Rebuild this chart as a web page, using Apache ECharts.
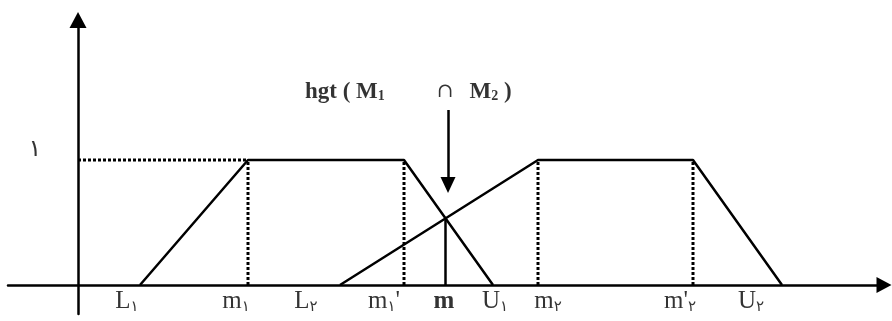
<!DOCTYPE html>
<html>
<head>
<meta charset="utf-8">
<script src="https://cdn.jsdelivr.net/npm/echarts/dist/echarts.min.js"></script>
<style>
  html, body { margin: 0; padding: 0; background: #fff; }
  #chart { width: 892px; height: 321px; }
</style>
</head>
<body>
<div id="chart"></div>
<script>
// Two trapezoidal fuzzy numbers M1 = (L1, m1, m1', U1) and M2 = (L2, m2, m2', U2)
const trapezoidM1 = [[62, 0], [170, 1], [326, 1], [415, 0]];
const trapezoidM2 = [[262, 0], [460, 1], [615, 1], [704, 0]];

// Core edges marked with dotted drops: m1, m1', m2, m2'
const coreEdges = [170, 326, 460, 615];

// Crossing point of the falling side of M1 and the rising side of M2
const crossX = 367.5;
const crossHeight = 0.533;

// Pointer from the hgt annotation down towards the crossing
const hgtArrow = [[370, 1.4], [370, 0.8]];
const hgtText = '{t|hgt ( M}{sub|1}{g1| }{cap|\u2229}{g2| }{t|M}{sub|2}{t| )}';
const hgtAnchor = [227, 1.544];

// Labels under the horizontal axis
const tickLabels = ['L۱', 'm۱', 'L۲', "m۱'", 'm', 'U۱', 'm۲', "m'۲", 'U۲'];
const tickLabelX = [49, 158, 228, 306, 366, 417, 470, 602, 673];
const tickLabelY = -0.135;

// Membership level label
const levelLabel = '۱';
const levelAnchor = [-43, 1.08];

const black = '#000';
const solid = { color: black, width: 2.5 };
const dotted = { color: black, width: 3, type: [3, 2] };

function lineSeries(data, style) {
  return {
    type: 'line', data: data, symbol: 'none', silent: true,
    lineStyle: style, z: 3
  };
}

function richLabel(text) {
  if (text === 'm') return '{b|m}';
  return text.replace(/([۰-۹])/g, '{s|$1}');
}

const series = [];
series.push(lineSeries(trapezoidM1, solid));
series.push(lineSeries(trapezoidM2, solid));
// dotted guide from the axis to the start of the core of M1
series.push(lineSeries([[0, 1], [coreEdges[0], 1]], dotted));
coreEdges.forEach(function (x) {
  series.push(lineSeries([[x, 0], [x, 1]], dotted));
});
// height of the intersection
series.push(lineSeries([[crossX, 0], [crossX, crossHeight]], solid));
// annotation arrow
series.push({
  type: 'line', data: [], silent: true,
  markLine: {
    silent: true, animation: false,
    symbol: ['none', 'triangle'], symbolSize: [15, 16],
    lineStyle: { color: black, width: 2.5, type: 'solid' },
    label: { show: false },
    data: [[{ coord: hgtArrow[0] }, { coord: hgtArrow[1] }]]
  }
});

const textFont = '"Liberation Serif", "DejaVu Serif", serif';

series.push({
  type: 'scatter', symbolSize: 0, silent: true,
  data: tickLabels.map(function (t, i) {
    return { name: t, value: [tickLabelX[i], tickLabelY] };
  }),
  label: {
    show: true, position: 'inside', color: black,
    fontFamily: textFont, fontSize: 25,
    formatter: function (p) { return richLabel(p.name); },
    rich: {
      s: { fontFamily: '"DejaVu Sans", sans-serif', fontSize: 15, color: black, padding: [10, 0, 0, 0] },
      b: { fontFamily: textFont, fontSize: 25, fontWeight: 'bold', color: black }
    }
  }
});

// hgt annotation, left-aligned at its anchor
series.push({
  type: 'scatter', symbolSize: 0, silent: true,
  data: [{ name: hgtText, value: hgtAnchor }],
  label: {
    show: true, position: 'right', distance: 0, color: black,
    formatter: function (p) { return p.name; },
    rich: {
      t: { fontFamily: textFont, fontSize: 23, fontWeight: 'bold', color: black },
      sub: { fontFamily: textFont, fontSize: 14, fontWeight: 'bold', color: black, padding: [9, 0, 0, 0] },
      g1: { width: 52 },
      cap: { fontFamily: '"DejaVu Serif", serif', fontSize: 20, color: black },
      g2: { width: 16 }
    }
  }
});

series.push({
  type: 'scatter', symbolSize: 0, silent: true,
  data: [{ name: levelLabel, value: levelAnchor }],
  label: {
    show: true, position: 'inside', color: black,
    fontFamily: '"DejaVu Sans", sans-serif', fontSize: 24,
    formatter: function (p) { return p.name; }
  }
});

const chart = echarts.init(document.getElementById('chart'), null, { renderer: 'canvas' });
chart.setOption({
  animation: false,
  backgroundColor: '#fff',
  grid: { left: 8, right: 8, top: 20, bottom: 7, containLabel: false },
  xAxis: {
    type: 'value', min: -70, max: 806,
    axisLine: {
      show: true, onZero: true,
      symbol: ['none', 'triangle'], symbolSize: [16, 15],
      lineStyle: { color: black, width: 2.5 }
    },
    axisTick: { show: false }, axisLabel: { show: false }, splitLine: { show: false }
  },
  yAxis: {
    type: 'value', min: -0.232, max: 2.12,
    axisLine: {
      show: true, onZero: true,
      symbol: ['none', 'triangle'], symbolSize: [17, 16],
      lineStyle: { color: black, width: 2.5 }
    },
    axisTick: { show: false }, axisLabel: { show: false }, splitLine: { show: false }
  },
  series: series
});
</script>
</body>
</html>
